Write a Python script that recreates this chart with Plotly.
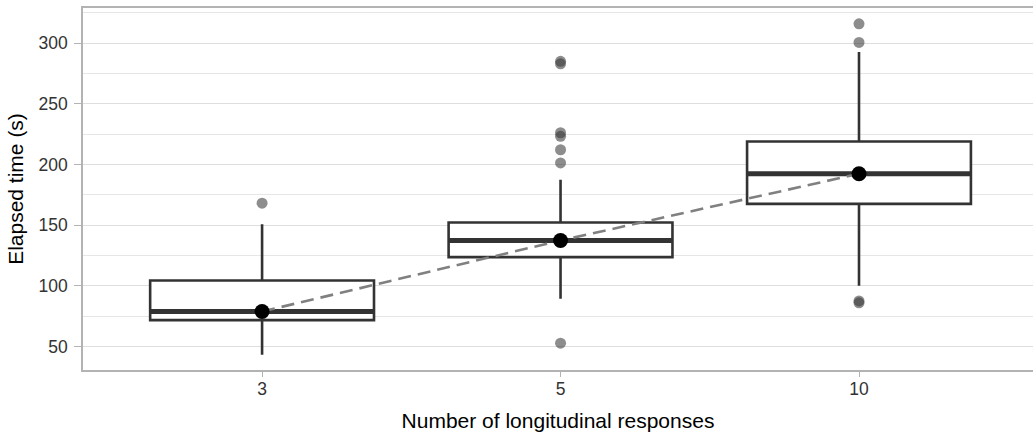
import plotly.graph_objects as go

# ---- data ----
categories = ["3", "5", "10"]
q1_vals = [71.7, 123.6, 167.5]
median_vals = [78.8, 137.3, 192.3]
q3_vals = [104.3, 152.1, 218.9]
lower_whisker = [43.1, 89.3, 100.0]
upper_whisker = [150.8, 187.3, 292.6]
mean_vals = [78.8, 137.3, 192.3]
outliers_3 = [168.1]
outliers_5 = [285.0, 282.9, 226.1, 223.2, 212.1, 201.2, 52.7]
outliers_10 = [315.9, 300.5, 87.5, 86.0]
y_tick_vals = [50, 100, 150, 200, 250, 300]

BOX_W = 0.75
LINE_COL = "#333333"
FONT = "Liberation Sans, Arial, sans-serif"

pos = list(range(len(categories)))

fig = go.Figure()

# boxes
fig.add_trace(go.Box(
    x=pos, q1=q1_vals, median=median_vals, q3=q3_vals,
    lowerfence=lower_whisker, upperfence=upper_whisker,
    width=BOX_W, whiskerwidth=0, boxpoints=False,
    fillcolor="white", line=dict(color=LINE_COL, width=2.6),
    showlegend=False, hoverinfo="skip",
))

# thick median lines
mx, my = [], []
for p, m in zip(pos, median_vals):
    mx += [p - BOX_W / 2, p + BOX_W / 2, None]
    my += [m, m, None]
fig.add_trace(go.Scatter(x=mx, y=my, mode="lines",
                         line=dict(color=LINE_COL, width=5),
                         showlegend=False, hoverinfo="skip"))

# outliers
ox, oy = [], []
for p, outs in zip(pos, [outliers_3, outliers_5, outliers_10]):
    ox += [p] * len(outs)
    oy += outs
fig.add_trace(go.Scatter(x=ox, y=oy, mode="markers",
                         marker=dict(size=11, color="rgba(51,51,51,0.56)",
                                     line=dict(width=0)),
                         showlegend=False, hoverinfo="skip"))

# dashed line through means
fig.add_trace(go.Scatter(x=pos, y=mean_vals, mode="lines",
                         line=dict(color="#808080", width=2.6, dash="13px,7px"),
                         showlegend=False, hoverinfo="skip"))

# mean points
fig.add_trace(go.Scatter(x=pos, y=mean_vals, mode="markers",
                         marker=dict(size=15, color="black", line=dict(width=0)),
                         showlegend=False, hoverinfo="skip"))

fig.update_layout(
    width=1033, height=433,
    margin=dict(l=83, r=0, t=8, b=63, pad=0),
    plot_bgcolor="white", paper_bgcolor="white",
    font=dict(family=FONT, color="#333333"),
    showlegend=False,
)

fig.update_xaxes(
    range=[-0.6, 2.583],
    tickmode="array", tickvals=pos, ticktext=categories,
    showgrid=False, zeroline=False,
    showline=True, linecolor="#B3B3B3", linewidth=1.6, mirror=True,
    ticks="outside", ticklen=5, tickwidth=1.4, tickcolor="#B3B3B3",
    tickfont=dict(size=17.5, color="#333333", family=FONT),
    ticklabelstandoff=-3,
    title=dict(text="Number of longitudinal responses",
               font=dict(size=21, color="black", family=FONT), standoff=16),
    automargin=False,
)

fig.update_yaxes(
    range=[30.6, 328.9],
    tickmode="array", tickvals=y_tick_vals,
    showgrid=True, gridcolor="#DEDEDE", gridwidth=1.4,
    minor=dict(dtick=25, tick0=0, showgrid=True, gridcolor="#E6E6E6", gridwidth=0.9),
    zeroline=False,
    showline=True, linecolor="#B3B3B3", linewidth=1.6, mirror=False,
    ticks="outside", ticklen=7, tickwidth=1.4, tickcolor="#B3B3B3",
    tickfont=dict(size=17.5, color="#333333", family=FONT),
    ticklabelstandoff=3,
    title=dict(text="Elapsed time (s)",
               font=dict(size=21, color="black", family=FONT), standoff=9),
    automargin=False,
)

fig.write_html(
    "out.html",
    config={"displayModeBar": False},
    post_script="document.body.style.margin='0';document.body.style.padding='0';document.body.style.overflow='hidden';",
)
